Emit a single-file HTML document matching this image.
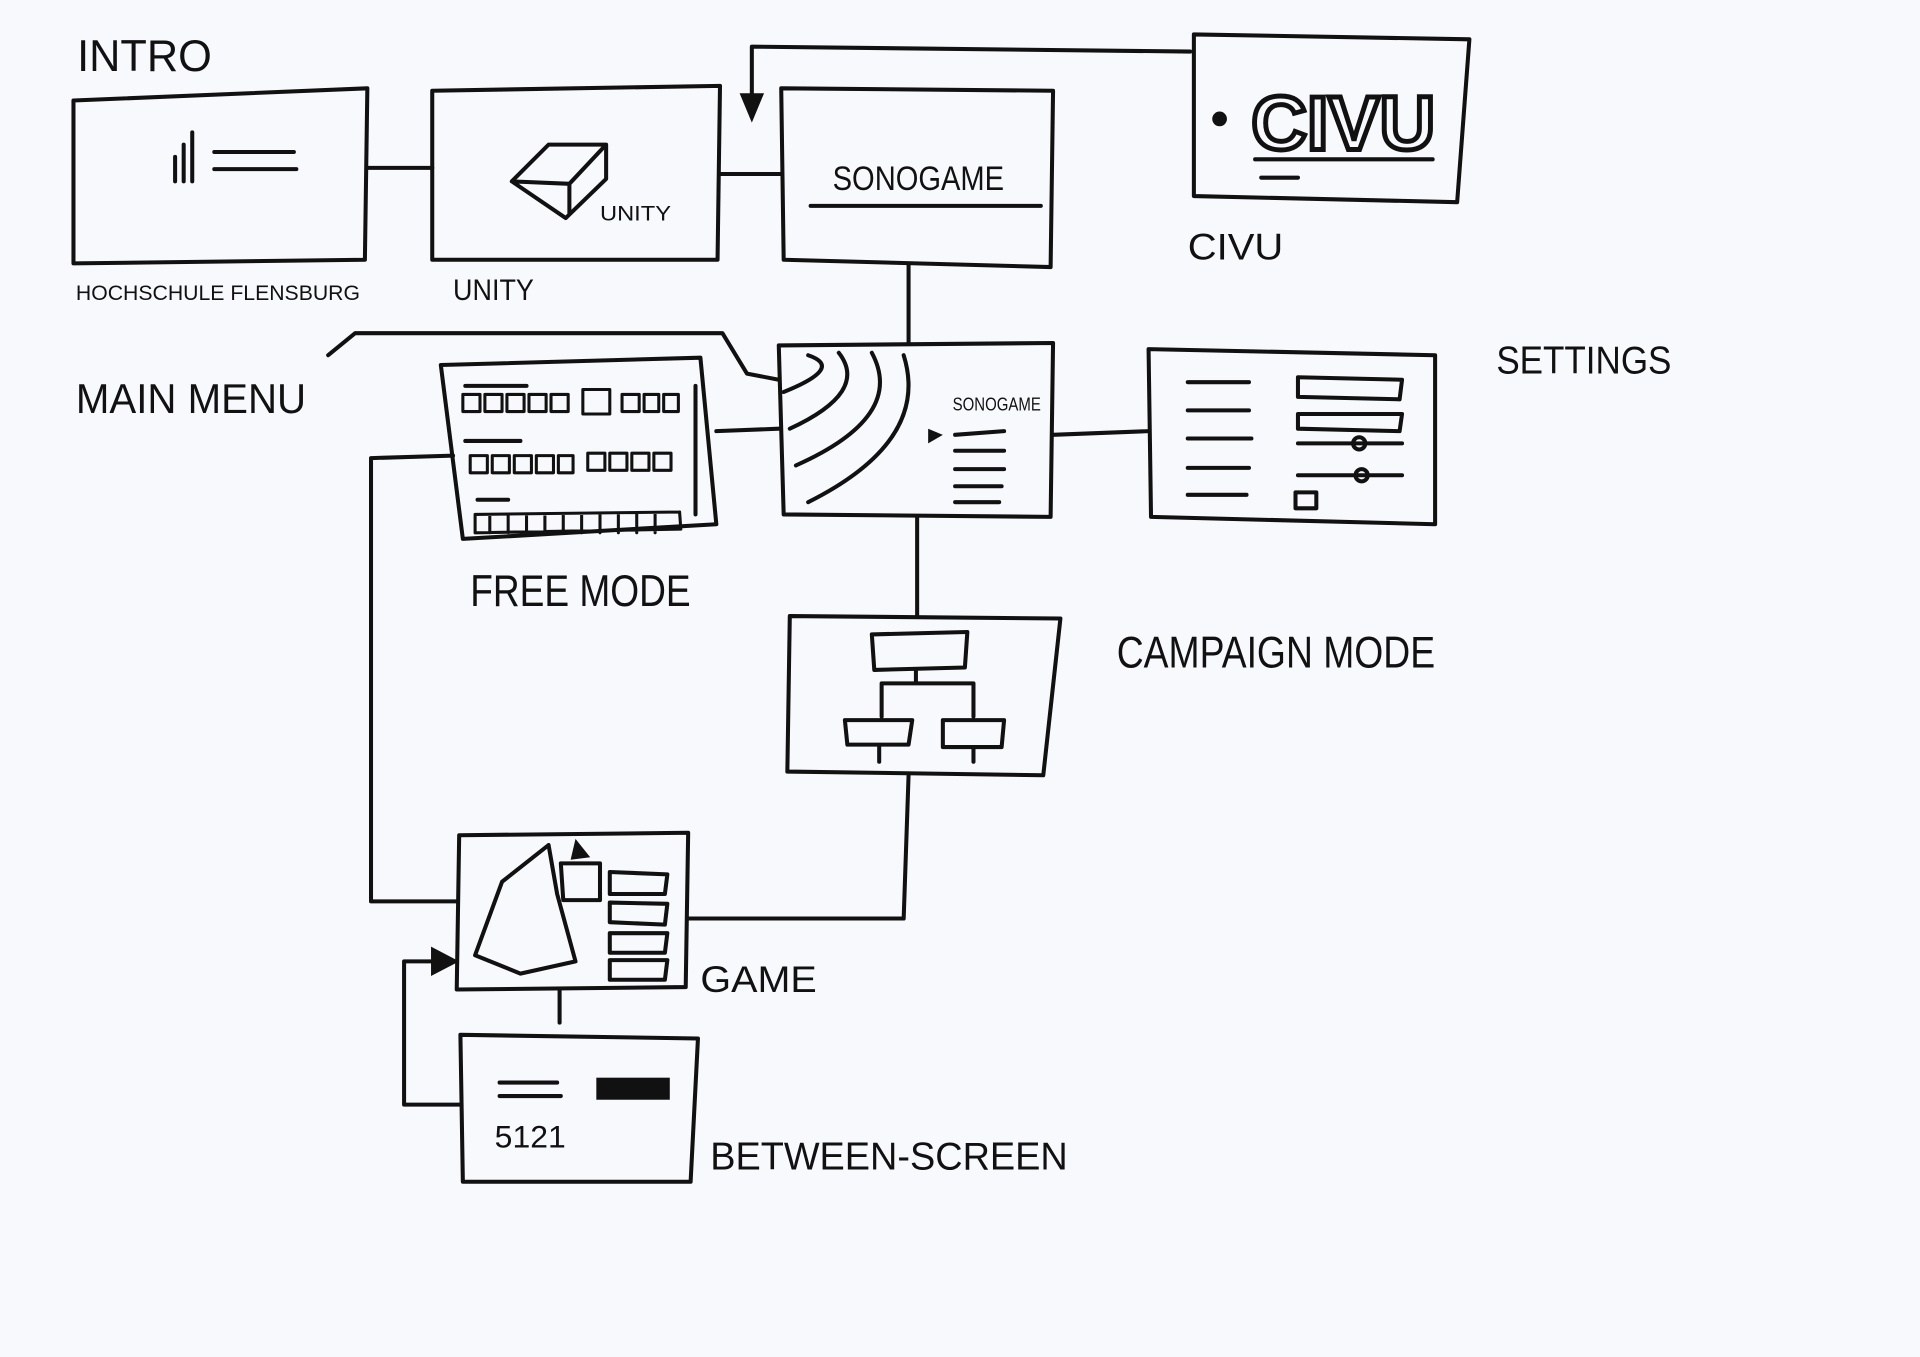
<!DOCTYPE html>
<html><head><meta charset="utf-8"><style>
html,body{margin:0;padding:0;background:#f8f9fd;}
svg{display:block;}
text{font-family:"Liberation Sans",sans-serif;fill:#111;}
</style></head><body>
<svg width="1920" height="1357" viewBox="0 0 1568 1108" xmlns="http://www.w3.org/2000/svg">
<rect width="1568" height="1108" fill="#f8f9fd"/>
<g fill="none" stroke="#111" stroke-width="3.3" stroke-linecap="round" stroke-linejoin="round">
<path d="M60 82 L300 72 L298 212 L60 215 Z"/>
<path d="M353 74 L588 70 L586 212 L353 212 Z"/>
<path d="M638 72 L860 74 L858 218 L640 212 Z"/>
<path d="M975 28 L1200 32 L1190 165 L975 160 Z"/>
<path d="M636 282 L860 280 L858 422 L640 420 Z"/>
<path d="M360 298 L572 292 L585 428 L378 440 Z"/>
<path d="M938 285 L1172 290 L1172 428 L940 422 Z"/>
<path d="M645 503 L866 505 L852 633 L643 630 Z"/>
<path d="M375 682 L562 680 L560 806 L373 808 Z"/>
<path d="M376 845 L570 848 L564 965 L378 965 Z"/>
<path d="M300 137 L353 137"/>
<path d="M588 142 L638 142"/>
<path d="M972 42 L614 38 L614 92"/>
<path d="M742 215 L742 280"/>
<path d="M860 355 L938 352"/>
<path d="M585 352 L636 350"/>
<path d="M268 290 L290 272 L590 272 L610 305 L636 310"/>
<path d="M370 372 L303 374 L303 736 L373 736"/>
<path d="M749 422 L749 503"/>
<path d="M742 633 L738 750 L562 750"/>
<path d="M457 808 L457 835"/>
<path d="M376 902 L330 902 L330 785 L360 785"/>
<path d="M143 128 L143 148 M150 118 L150 148 M157 108 L157 148 M175 124 L240 124 M175 138 L242 138"/>
<path d="M418 148 L448 118 L495 118 L465 150 Z M465 150 L465 175 M418 148 L462 178 L495 146 L495 118"/>
<path d="M662 168 L850 168"/>
<path d="M1025 130 L1170 130 M1030 145 L1060 145"/>
<path d="M640 320 Q690 300 660 290 M645 350 Q710 320 685 288 M650 380 Q740 340 712 288 M660 410 Q760 360 738 290 M780 355 L820 352 M780 368 L820 368 M780 383 L820 383 M780 397 L818 397 M780 410 L816 410"/>
<path d="M380 315 L430 315 M380 360 L425 360 M390 408 L415 408 M568 315 L568 420"/>
<g stroke-width="2.5">
<rect x="378" y="322" width="14" height="14"/><rect x="396" y="322" width="14" height="14"/><rect x="414" y="322" width="14" height="14"/><rect x="432" y="322" width="14" height="14"/><rect x="450" y="322" width="14" height="14"/><rect x="476" y="318" width="22" height="20"/><rect x="508" y="322" width="14" height="14"/><rect x="526" y="322" width="12" height="14"/><rect x="542" y="322" width="12" height="14"/>
<rect x="384" y="372" width="14" height="14"/><rect x="402" y="372" width="14" height="14"/><rect x="420" y="372" width="14" height="14"/><rect x="438" y="372" width="14" height="14"/><rect x="456" y="372" width="12" height="14"/><rect x="480" y="370" width="14" height="14"/><rect x="498" y="370" width="14" height="14"/><rect x="516" y="370" width="14" height="14"/><rect x="534" y="370" width="14" height="14"/>
<path d="M388 420 L555 418 M388 435 L556 432 M400 420 L400 435 M415 420 L415 435 M430 420 L430 435 M445 420 L445 435 M460 420 L460 435 M475 420 L475 435 M490 420 L490 435 M505 420 L505 435 M520 420 L520 435 M535 420 L535 435 M388 420 L388 435 M555 418 L556 432"/>
</g>
<path d="M970 312 L1020 312 M970 335 L1020 335 M970 358 L1022 358 M970 382 L1020 382 M970 404 L1018 404 M1060 308 L1145 310 L1143 326 L1060 324 Z M1060 338 L1145 338 L1143 352 L1060 350 Z M1060 362 L1145 362 M1060 388 L1145 388 M1058 402 L1075 402 L1075 415 L1058 415 Z"/>
<circle cx="1110" cy="362" r="5"/><circle cx="1112" cy="388" r="5"/>
<path d="M712 518 L790 516 L788 545 L714 547 Z M748 547 L748 558 M720 558 L795 558 M720 558 L720 585 M795 558 L795 585 M690 588 L745 588 L742 608 L692 608 Z M770 588 L820 588 L818 610 L770 610 Z M718 608 L718 622 M795 610 L795 622"/>
<path d="M448 690 L410 720 L388 780 L425 795 L470 785 L455 730 Z M458 705 L490 705 L490 735 L460 735 Z M498 712 L545 714 L543 730 L498 730 Z M498 737 L545 738 L543 755 L498 753 Z M498 762 L545 762 L543 778 L498 778 Z M498 784 L545 784 L543 800 L498 800 Z"/>
<path d="M408 884 L455 884 M408 895 L458 895"/>
</g>
<path d="M604 76 L624 76 L614 100 Z" fill="#111"/>
<path d="M352 773 L375 785 L352 797 Z" fill="#111"/>
<path d="M758 350 L770 355 L758 362 Z" fill="#111"/>
<path d="M470 685 L482 700 L466 702 Z" fill="#111"/>
<circle cx="996" cy="97" r="6" fill="#111"/>
<rect x="487" y="880" width="60" height="18" fill="#111"/>
<g>
<text x="63" y="58" font-size="36" textLength="110" lengthAdjust="spacingAndGlyphs">INTRO</text>
<text x="62" y="245" font-size="17" textLength="232" lengthAdjust="spacingAndGlyphs">HOCHSCHULE FLENSBURG</text>
<text x="370" y="245" font-size="24" textLength="66" lengthAdjust="spacingAndGlyphs">UNITY</text>
<text x="490" y="180" font-size="17" textLength="58" lengthAdjust="spacingAndGlyphs">UNITY</text>
<text x="680" y="155" font-size="28" textLength="140" lengthAdjust="spacingAndGlyphs">SONOGAME</text>
<text x="1022" y="122" font-size="62" font-weight="bold" fill="none" stroke="#111" stroke-width="4" textLength="150" lengthAdjust="spacingAndGlyphs" style="fill:none">CIVU</text>
<text x="970" y="212" font-size="30" textLength="78" lengthAdjust="spacingAndGlyphs">CIVU</text>
<text x="1222" y="305" font-size="32" textLength="143" lengthAdjust="spacingAndGlyphs">SETTINGS</text>
<text x="62" y="337" font-size="34" textLength="188" lengthAdjust="spacingAndGlyphs">MAIN MENU</text>
<text x="778" y="335" font-size="15" textLength="72" lengthAdjust="spacingAndGlyphs">SONOGAME</text>
<text x="384" y="495" font-size="36" textLength="180" lengthAdjust="spacingAndGlyphs">FREE MODE</text>
<text x="912" y="545" font-size="36" textLength="260" lengthAdjust="spacingAndGlyphs">CAMPAIGN MODE</text>
<text x="572" y="810" font-size="30" textLength="95" lengthAdjust="spacingAndGlyphs">GAME</text>
<text x="404" y="937" font-size="26" textLength="58" lengthAdjust="spacingAndGlyphs">5121</text>
<text x="580" y="955" font-size="32" textLength="292" lengthAdjust="spacingAndGlyphs">BETWEEN-SCREEN</text>
</g>
</svg>
</body></html>
